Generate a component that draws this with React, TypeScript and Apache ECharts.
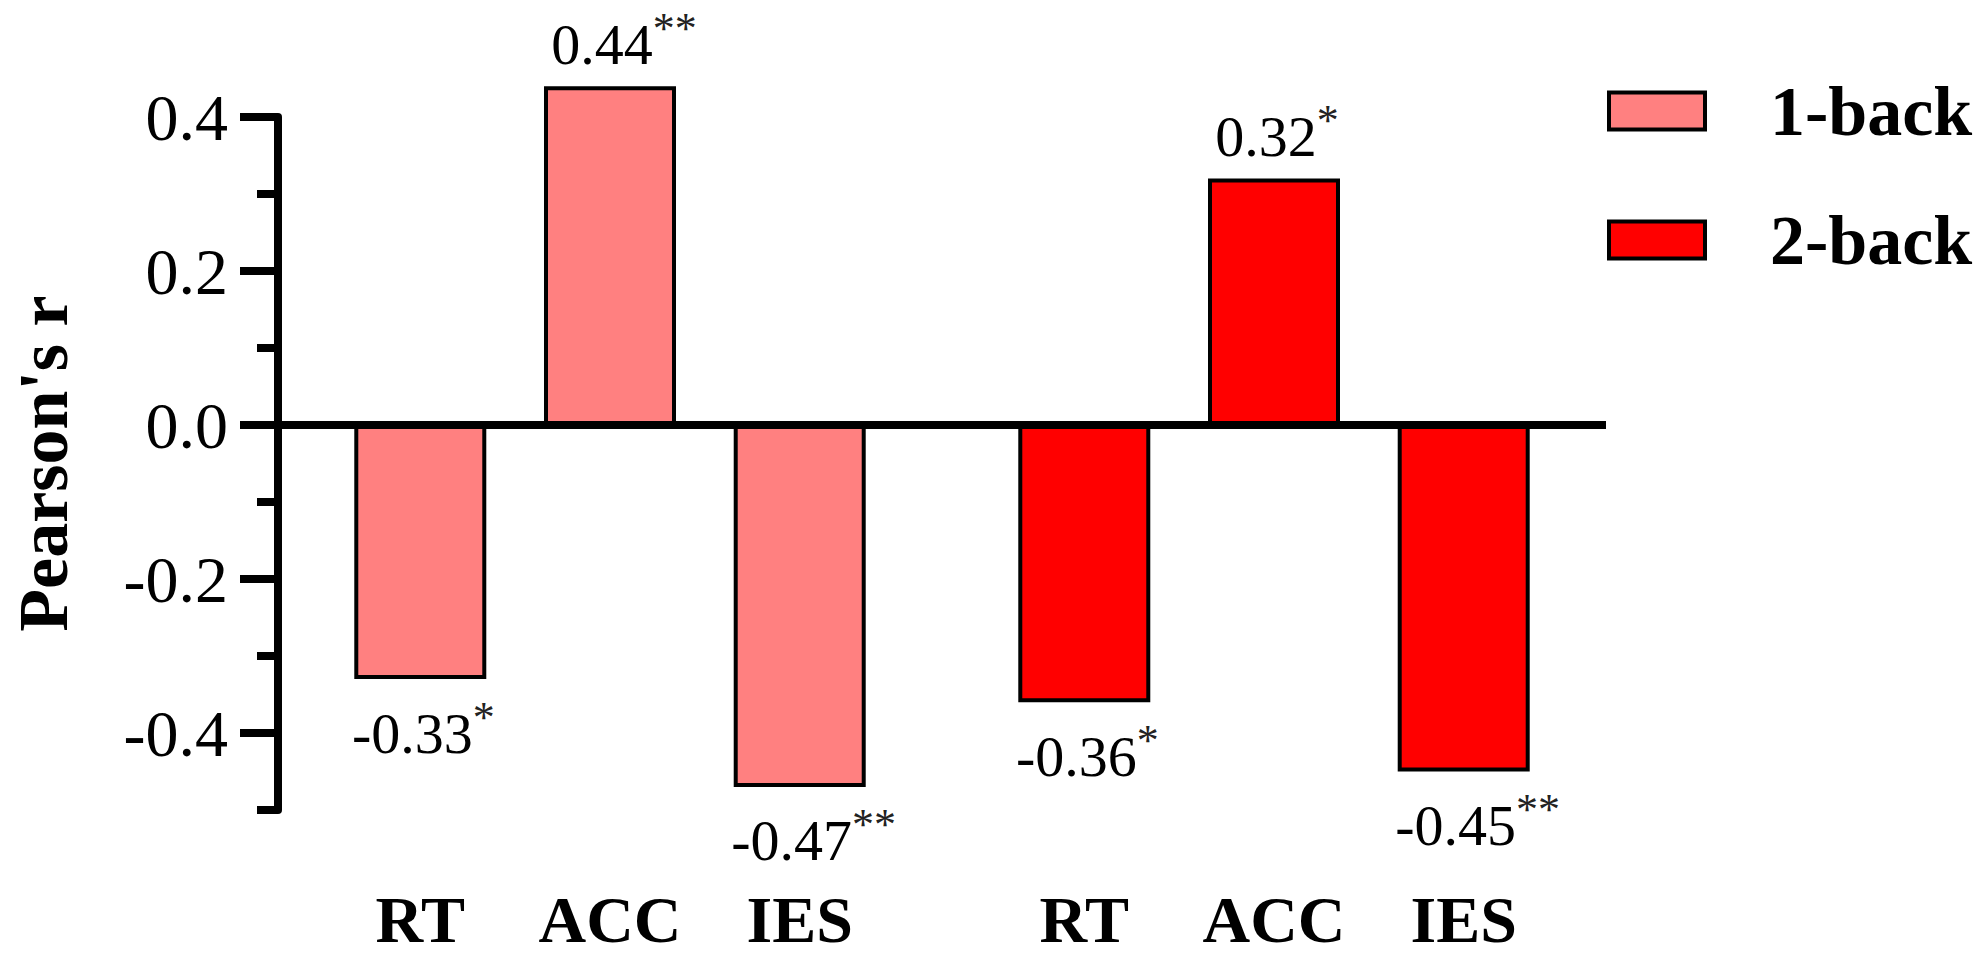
import React, { useEffect, useRef } from 'react';
import * as echarts from 'echarts';

const tasks = ['1-back', '2-back'];
const measures = ['RT', 'ACC', 'IES'];
const oneBackR = [-0.33, 0.44, -0.47];
const twoBackR = [-0.36, 0.32, -0.45];
const oneBackSig = ['*', '**', '**'];
const twoBackSig = ['*', '*', '**'];
const yTickValues = [-0.4, -0.2, 0, 0.2, 0.4];
const taskColors = ['#FF8080', '#FF0000'];

const FONT = '"Liberation Serif", "Times New Roman", Times, serif';

const values = [oneBackR, twoBackR];
const sigs = [oneBackSig, twoBackSig];

// half-width slots: gap, measure, gap, measure, gap, measure, gap per task
const categories: string[] = [];
tasks.forEach((t, g) => {
  categories.push(`gap-${g}-a`);
  measures.forEach((m, i) => {
    categories.push(`${t}|${m}`);
    categories.push(`gap-${g}-${i}`);
  });
});

function seriesData(g: number) {
  return categories.map((c) => {
    if (!c.includes('|')) return null;
    const [t, m] = c.split('|');
    if (t !== tasks[g]) return null;
    const i = measures.indexOf(m);
    const v = values[g][i];
    return { value: v, sig: sigs[g][i], label: { distance: v >= 0 ? 4 : 16 } };
  });
}

const labelRich = {
  v1: { fontSize: 58, lineHeight: 76, fontFamily: FONT, color: '#000', padding: [0, 0, 0, 6] },
  v2: { fontSize: 58, lineHeight: 76, fontFamily: FONT, color: '#000', padding: [0, 0, 0, 28] },
  s: { fontSize: 44, lineHeight: 1, verticalAlign: 'top', fontFamily: FONT, color: '#222' },
};

function labelFormatter(p: any) {
  const d = p.data;
  if (!d) return '';
  return `{v${d.sig.length}|${d.value.toFixed(2)}}{s|${d.sig}}`;
}

export default function App() {
  const ref = useRef<HTMLDivElement>(null);
  useEffect(() => {
    if (!ref.current) return;
    const chart = echarts.init(ref.current, null, { renderer: 'svg' });
    const series: any[] = tasks.map((t, g) => ({
      name: t,
      type: 'bar',
      data: seriesData(g),
      barWidth: 132,
      barGap: '-100%',
      clip: false,
      yAxisIndex: 0,
      itemStyle: { color: taskColors[g], borderColor: '#000', borderWidth: 4 },
      label: {
        show: true,
        position: 'outside',
        color: '#000',
        formatter: labelFormatter,
        rich: labelRich,
      },
      emphasis: { disabled: true },
    }));
    series[0].markLine = {
      silent: true,
      symbol: 'none',
      data: [{ yAxis: 0 }],
      lineStyle: { color: '#000', width: 8, type: 'solid' },
      label: { show: false },
    };
    chart.setOption({
      animation: false,
      backgroundColor: '#fff',
      grid: { left: 273, right: 377, top: 117, bottom: 147, containLabel: false },
      legend: {
        orient: 'vertical',
        left: 1602,
        top: 71,
        itemWidth: 96,
        itemHeight: 37,
        itemGap: 59,
        icon: 'rect',
        itemStyle: { borderColor: '#000', borderWidth: 4 },
        textStyle: {
          fontSize: 70,
          lineHeight: 70,
          fontWeight: 'bold',
          fontFamily: FONT,
          color: '#000',
          padding: [0, 0, 0, 60],
        },
        data: tasks,
      },
      xAxis: {
        type: 'category',
        data: categories,
        position: 'bottom',
        axisLine: { show: false, onZero: false },
        axisTick: { show: false },
        splitLine: { show: false },
        axisLabel: {
          interval: 0,
          margin: 84,
          fontSize: 66,
          lineHeight: 50,
          fontWeight: 'bold',
          fontFamily: FONT,
          color: '#000',
          formatter: (c: string) => (c.includes('|') ? c.split('|')[1] : ''),
        },
      },
      yAxis: [
        {
          type: 'value',
          min: -0.5,
          max: 0.4,
          interval: 0.1,
          position: 'left',
          axisLine: { show: true, onZero: false, lineStyle: { color: '#000', width: 8 } },
          axisTick: { show: true, length: 21, lineStyle: { color: '#000', width: 8 } },
          axisLabel: { show: false },
          splitLine: { show: false },
        },
        {
          type: 'value',
          min: -0.5,
          max: 0.4,
          interval: 0.1,
          position: 'left',
          offset: 0,
          axisLine: { show: false, onZero: false },
          axisTick: {
            show: true,
            length: 38,
            customValues: yTickValues,
            lineStyle: { color: '#000', width: 8 },
          },
          axisLabel: {
            show: true,
            customValues: yTickValues,
            margin: 50,
            fontSize: 66,
            fontFamily: FONT,
            color: '#000',
            formatter: (v: number) => v.toFixed(1),
          },
          splitLine: { show: false },
          name: "Pearson's r",
          nameLocation: 'middle',
          nameGap: 200,
          nameTextStyle: {
            fontSize: 70,
            fontWeight: 'bold',
            fontFamily: FONT,
            color: '#000',
          },
        },
      ],
      series,
    });
    return () => chart.dispose();
  }, []);
  return (
    <div
      ref={ref}
      style={{ position: 'absolute', left: 0, top: 0, width: 1983, height: 957 }}
    />
  );
}
